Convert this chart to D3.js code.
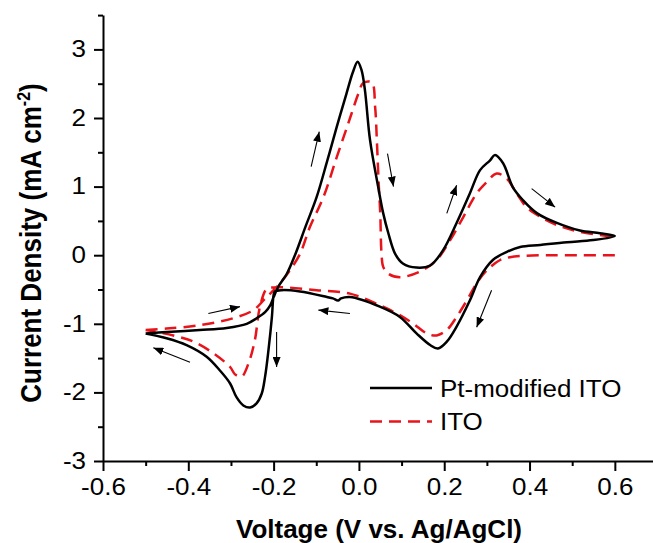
<!DOCTYPE html>
<html>
<head>
<meta charset="utf-8">
<script src="https://cdn.jsdelivr.net/npm/d3@7"></script>
<style>
  html, body { margin: 0; padding: 0; background: #fff; }
  svg text { font-family: Arial, "Liberation Sans", sans-serif; }
</style>
</head>
<body>
<svg id="chart" width="653" height="543"></svg>
<script>
// Pt-modified ITO, one full cycle starting at -0.5 V (anodic sweep first)
const ptV = [-0.5, -0.451, -0.373, -0.31, -0.263, -0.24, -0.22, -0.208, -0.2, -0.189, -0.169, -0.15, -0.125, -0.099, -0.075,
  -0.052, -0.029, -0.014, -0.003, 0.006, 0.014, 0.026, 0.045, 0.057, 0.069, 0.085, 0.103, 0.135, 0.167, 0.197, 0.229,
  0.26, 0.284, 0.307, 0.319, 0.338, 0.361, 0.385, 0.418, 0.464, 0.518, 0.565, 0.6,
  0.549, 0.488, 0.425, 0.378, 0.347, 0.314, 0.284, 0.26, 0.229, 0.206, 0.185, 0.167, 0.135, 0.096, 0.049, -0.021,
  -0.042, -0.049, -0.061, -0.075, -0.138, -0.181, -0.197, -0.2, -0.204, -0.212, -0.22, -0.228, -0.24, -0.255,
  -0.271, -0.287, -0.302, -0.326, -0.357, -0.404, -0.451, -0.5];
const ptI = [-1.14, -1.12, -1.09, -1.06, -1.0, -0.92, -0.83, -0.73, -0.61, -0.46, -0.27, 0.0, 0.42, 0.85, 1.36,
  1.87, 2.36, 2.67, 2.82, 2.7, 2.41, 1.68, 1.0, 0.61, 0.32, 0.02, -0.12, -0.18, -0.15, 0.07, 0.47,
  0.9, 1.24, 1.38, 1.46, 1.34, 0.99, 0.8, 0.61, 0.47, 0.36, 0.32, 0.28,
  0.22, 0.19, 0.15, 0.12, 0.05, -0.07, -0.32, -0.66, -1.04, -1.26, -1.36, -1.31, -1.14, -0.9, -0.75, -0.61,
  -0.63, -0.66, -0.63, -0.61, -0.53, -0.51, -0.53, -0.58, -0.9, -1.38, -1.77, -2.02, -2.16, -2.22,
  -2.19, -2.07, -1.87, -1.68, -1.48, -1.31, -1.21, -1.14];

// bare ITO, same cycle; null marks the jump at the 0.6 V vertex
const itoV = [-0.5, -0.451, -0.373, -0.295, -0.247, -0.224, -0.208, -0.185, -0.162, -0.138, -0.115, -0.083, -0.052, -0.025,
  -0.001, 0.01, 0.03, 0.038, 0.042, 0.046, 0.05, 0.053, 0.057, 0.069, 0.096, 0.143, 0.182, 0.214, 0.245, 0.276, 0.3,
  0.323, 0.346, 0.37, 0.393, 0.425, 0.464, 0.518, 0.6, null,
  0.6, 0.518, 0.44, 0.385, 0.354, 0.331, 0.3, 0.276, 0.253, 0.229, 0.206, 0.182, 0.159, 0.128, 0.089, 0.049, -0.021,
  -0.099, -0.169, -0.2, -0.216, -0.232, -0.244, -0.259, -0.275, -0.29, -0.302, -0.341, -0.388, -0.435, -0.5];
const itoI = [-1.09, -1.07, -1.02, -0.92, -0.8, -0.66, -0.56, -0.41, -0.22, 0.02, 0.41, 0.85, 1.43, 1.92,
  2.36, 2.51, 2.52, 2.16, 1.68, 1.09, 0.61, 0.02, -0.17, -0.27, -0.32, -0.24, -0.07, 0.22, 0.56, 0.9, 1.07,
  1.19, 1.12, 0.9, 0.7, 0.56, 0.44, 0.34, 0.27, null,
  0.0, 0.0, 0.0, -0.01, -0.03, -0.07, -0.22, -0.41, -0.66, -0.9, -1.09, -1.17, -1.14, -1.0, -0.85, -0.73, -0.56,
  -0.51, -0.47, -0.47, -0.49, -0.75, -1.24, -1.58, -1.77, -1.74, -1.63, -1.43, -1.26, -1.17, -1.09];

// scan direction arrows: [fromV, fromI, toV, toI]
const arrows = [
  [-0.112, 1.29, -0.093, 1.80],
  [0.067, 1.48, 0.081, 1.0],
  [0.206, 0.61, 0.229, 1.02],
  [0.405, 0.97, 0.46, 0.70],
  [0.311, -0.51, 0.276, -1.05],
  [-0.021, -0.85, -0.095, -0.80],
  [-0.193, -1.12, -0.193, -1.63],
  [-0.353, -0.85, -0.279, -0.75],
  [-0.396, -1.56, -0.482, -1.35]
];

const xTicks = [-0.6, -0.4, -0.2, 0.0, 0.2, 0.4, 0.6];
const xMinor = [-0.5, -0.3, -0.1, 0.1, 0.3, 0.5];
const yTicks = [-3, -2, -1, 0, 1, 2, 3];
const yMinor = [-2.5, -1.5, -0.5, 0.5, 1.5, 2.5, 3.5];
const seriesNames = ['Pt-modified ITO', 'ITO'];

const svg = d3.select('#chart');
const stretch = 'scale(1.13,1)';

const x = d3.scaleLinear().domain([-0.6, 0.7]).range([103, 657.5]);
const y = d3.scaleLinear().domain([-3, 3.5]).range([461, 15.1]);

// axes
svg.append('g').attr('transform', 'translate(0,' + y(-3) + ')')
  .call(d3.axisBottom(x).tickValues(xTicks).tickSize(10).tickSizeOuter(0).tickPadding(8)
    .tickFormat(d => d.toFixed(1)));
svg.append('g').attr('transform', 'translate(0,' + y(-3) + ')')
  .call(d3.axisBottom(x).tickValues(xMinor).tickSize(5).tickSizeOuter(0).tickFormat(''))
  .select('.domain').remove();

svg.append('g').attr('transform', 'translate(' + x(-0.6) + ',0)')
  .call(d3.axisLeft(y).tickValues(yTicks).tickSize(9).tickSizeOuter(0).tickPadding(6)
    .tickFormat(d => String(d)));
svg.append('g').attr('transform', 'translate(' + x(-0.6) + ',0)')
  .call(d3.axisLeft(y).tickValues(yMinor).tickSize(5).tickSizeOuter(0).tickFormat(''))
  .select('.domain').remove();

svg.selectAll('.domain, .tick line').attr('stroke', '#000').attr('stroke-width', 2);
svg.selectAll('.tick text')
  .attr('font-family', 'Arial, "Liberation Sans", sans-serif')
  .attr('font-size', 23)
  .attr('fill', '#000')
  .attr('transform', stretch);

// axis titles
svg.append('text')
  .attr('x', 379).attr('y', 538)
  .attr('text-anchor', 'middle')
  .attr('font-size', 26).attr('font-weight', 'bold')
  .text('Voltage (V vs. Ag/AgCl)');

const yTitle = svg.append('text')
  .attr('transform', 'translate(41,243) ' + stretch + ' rotate(-90)')
  .attr('text-anchor', 'middle')
  .attr('font-size', 26).attr('font-weight', 'bold');
yTitle.append('tspan').text('Current Density (mA cm');
yTitle.append('tspan').attr('font-size', 16).attr('dy', -10).text('-2');
yTitle.append('tspan').attr('dy', 10).text(')');

// curves
const line = d3.line()
  .defined(d => d[0] != null && d[1] != null)
  .x(d => x(d[0])).y(d => y(d[1]))
  .curve(d3.curveCatmullRom.alpha(0.5));

svg.append('path')
  .datum(itoV.map((v, i) => [v, itoI[i]]))
  .attr('d', line)
  .attr('fill', 'none').attr('stroke', '#e8141b').attr('stroke-width', 2.5)
  .attr('stroke-dasharray', '12,7');

svg.append('path')
  .datum(ptV.map((v, i) => [v, ptI[i]]))
  .attr('d', line)
  .attr('fill', 'none').attr('stroke', '#000').attr('stroke-width', 2.5)
  .attr('stroke-linejoin', 'round');

// arrows
svg.append('defs').append('marker')
  .attr('id', 'head')
  .attr('viewBox', '0 0 10 8')
  .attr('refX', 10).attr('refY', 4)
  .attr('markerWidth', 10).attr('markerHeight', 8)
  .attr('markerUnits', 'userSpaceOnUse')
  .attr('orient', 'auto')
  .append('path').attr('d', 'M0,0L10,4L0,8Z').attr('fill', '#000');

svg.selectAll('.arrow')
  .data(arrows)
  .enter()
  .append('line')
  .attr('class', 'arrow')
  .attr('x1', d => x(d[0])).attr('y1', d => y(d[1]))
  .attr('x2', d => x(d[2])).attr('y2', d => y(d[3]))
  .attr('stroke', '#000').attr('stroke-width', 1.1)
  .attr('marker-end', 'url(#head)');

// legend
const legend = svg.append('g');
const legendY = [388, 421.5];
seriesNames.forEach((name, i) => {
  legend.append('line')
    .attr('x1', 370).attr('x2', 432)
    .attr('y1', legendY[i]).attr('y2', legendY[i])
    .attr('stroke', i === 0 ? '#000' : '#e8141b')
    .attr('stroke-width', 2.5)
    .attr('stroke-dasharray', i === 0 ? null : '12,7');
  legend.append('text')
    .attr('transform', 'translate(440,' + (legendY[i] + 8.5) + ') ' + stretch)
    .attr('font-size', 23)
    .text(name);
});
</script>
</body>
</html>
